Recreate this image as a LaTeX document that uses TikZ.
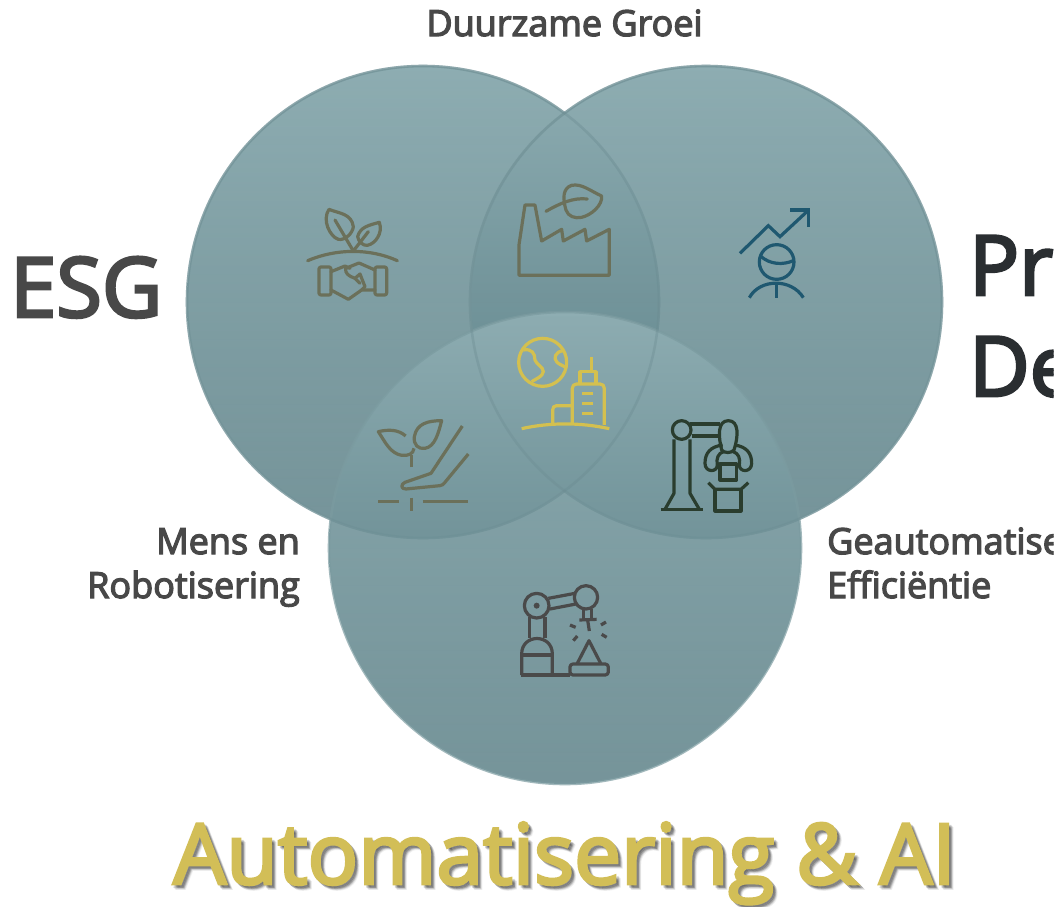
\documentclass[tikz,border=0pt]{standalone}
\usepackage{fontspec}
\usetikzlibrary{fadings}
\setmainfont{Open Sans}
\newfontfamily\semib[FakeBold=3.5]{Open Sans}
\definecolor{ctop}{RGB}{142,173,178}
\definecolor{cmid}{RGB}{99,137,144}
\definecolor{cbot}{RGB}{84,122,129}
\definecolor{dmid}{RGB}{120,157,163}
\definecolor{cedge}{HTML}{7B9BA0}
\definecolor{cinner}{HTML}{6A8A90}
\definecolor{lbl}{HTML}{484848}
\definecolor{dk}{HTML}{2A2E31}
\definecolor{gold}{HTML}{D2BE57}
\definecolor{olive}{HTML}{6B705A}
\definecolor{navy}{HTML}{1F5870}
\definecolor{yel}{HTML}{D4C04F}
\definecolor{rdk}{HTML}{2A3D2E}
\definecolor{rgr}{HTML}{4A4A4A}
\tikzfading[name=vennfade,top color=transparent!0,middle color=transparent!20,bottom color=transparent!20]
\tikzset{
  venn/.style={top color=ctop,middle color=cmid,bottom color=cbot,path fading=vennfade,fit fading=true},
  vennb/.style={top color=ctop,middle color=dmid,bottom color=cbot,path fading=vennfade,fit fading=true},
  rim/.style={draw=cedge,line width=2.6pt,draw opacity=.7},
  rimin/.style={draw=cinner,line width=2.6pt,draw opacity=.35},
  ico/.style={line width=3.2pt,line join=round,line cap=round,fill=none},
  small/.style={font=\semib\fontsize{36}{44}\selectfont,text=lbl,inner sep=0pt},
  big/.style={font=\semib\fontsize{83}{83}\selectfont,inner sep=0pt},
  huge/.style={font=\semib\fontsize{84}{84}\selectfont,inner sep=0pt},
}
\begin{document}
\begin{tikzpicture}[x=1pt,y=-1pt]
\useasboundingbox (0,0) rectangle (1063,906);
\fill[white] (0,0) rectangle (1063,906);
% circles
\path[venn] (423,302) circle[radius=236];
\path[rim] (423,302) circle[radius=236];
\path[venn] (706,302) circle[radius=236];
\path[rim] (706,302) circle[radius=236];
\path[vennb] (565,548) circle[radius=236];
\path[rim] (565,548) circle[radius=236];
\path[rimin] (423,302) circle[radius=236];
\path[rimin] (706,302) circle[radius=236];
% text
\begin{scope}
\clip (0,0) rectangle (1053.5,906);
\node[small,anchor=base] (top) at (564.5,36) {Duurzame Groei};
\node[big,text=lbl,anchor=base west] (esg) at (10,317) {ESG};
\node[big,text=dk,anchor=base west] (pr) at (969,295) {Pro};
\node[big,text=dk,anchor=base west] (de) at (969,396) {De};
\node[small,anchor=base east] (m1) at (300,554) {Mens en};
\node[small,anchor=base east] (m2) at (300,598) {Robotisering};
\node[small,anchor=base west] (g1) at (827,554) {Geautomatise};
\node[small,anchor=base west] (g2) at (827,598) {Efficiëntie};
\end{scope}
\foreach \dd/\oo in {4.5/.06,3.8/.09,3/.12,2.2/.15}{
  \node[huge,text=black,text opacity=\oo,anchor=base] at (564.5+\dd,884+\dd) {Automatisering \& AI};
}
\node[huge,text=gold,anchor=base] (auto) at (564.5,884) {Automatisering \& AI};
% handshake and plants
\begin{scope}[shift={(280,170)},x=.3333pt,y=-.3333pt,yscale=1]
\begin{scope}[ico,draw=olive]
\draw (83,272) .. controls (170,235) and (270,235) .. (352,272);
\draw (165,150) -- (220,243) -- (265,185);
\draw (147,118) .. controls (175,130) and (215,130) .. (220,170) .. controls (218,190) and (195,212) .. (175,208) .. controls (150,200) and (125,150) .. (147,118) -- cycle;
\draw (298,157) .. controls (270,165) and (240,170) .. (233,200) .. controls (235,215) and (250,228) .. (262,226) .. controls (285,222) and (310,190) .. (298,157) -- cycle;
\draw[rounded corners=2pt] (117,291) rectangle (153,375);
\draw[rounded corners=2pt] (285,291) rectangle (320,375);
\draw (153,305) -- (195,288) -- (210,295);
\draw (197,295) -- (237,279) -- (285,300);
\draw (153,360) -- (205,388) -- (245,360) -- (285,360);
\draw (197,295) .. controls (195,310) and (205,318) .. (225,325) -- (240,312) -- (255,350) -- (245,360);
\draw (225,325) -- (240,340);
\end{scope}
\end{scope}
% factory
\begin{scope}[shift={(280,170)},x=.3333pt,y=-.3333pt]
\begin{scope}[ico,draw=olive]
\draw (717,316) -- (717,225) -- (735,105) -- (765,105) -- (785,213) -- (845,178) -- (850,213) -- (915,178) -- (920,213) -- (988,178) -- (988,316) -- cycle;
\draw (798,124) .. controls (840,100) and (880,82) .. (922,87);
\draw (965,78) .. controls (930,62) and (905,40) .. (875,46) .. controls (848,55) and (848,85) .. (858,120) .. controls (865,140) and (885,146) .. (905,142) .. controls (935,135) and (968,105) .. (965,78) -- cycle;
\end{scope}
\end{scope}
% person
\begin{scope}[shift={(720,190)},x=.3333pt,y=-.3333pt]
\begin{scope}[ico,draw=navy,line cap=butt,line join=miter]
\draw (60,190) -- (145,107) -- (180,140) -- (266,60);
\draw (210,60) -- (266,60) -- (266,110);
\draw (170,216) circle[radius=52];
\draw (120,197) .. controls (150,225) and (190,225) .. (220,212);
\draw (88,323) .. controls (120,265) and (215,265) .. (250,323);
\draw (170,280) -- (170,323);
\end{scope}
\end{scope}
% globe, city, plant-hand
\begin{scope}[shift={(360,330)},x=.3333pt,y=-.3333pt]
\begin{scope}[ico,draw=yel,line cap=butt]
\draw (548,97) circle[radius=72];
\draw (490,60) .. controls (515,55) and (525,70) .. (525,90) .. controls (530,105) and (550,110) .. (550,125) .. controls (548,140) and (530,145) .. (515,155);
\draw (610,62) .. controls (585,65) and (580,85) .. (590,95) .. controls (595,102) and (605,105) .. (617,112);
\draw (485,296) .. controls (570,277) and (660,277) .. (748,296);
\draw (637,280) -- (637,175) .. controls (637,167) and (642,162) .. (650,162) -- (720,162) .. controls (728,162) and (733,167) .. (733,175) -- (733,285);
\draw (660,162) -- (660,125) -- (708,125) -- (708,162);
\draw (695,125) -- (695,80);
\draw (578,283) -- (578,240) .. controls (578,232) and (582,227) .. (590,227) -- (637,227);
\draw (666,190) -- (700,190);
\draw (666,220) -- (700,220);
\draw (666,250) -- (700,250);
\end{scope}
\begin{scope}[ico,draw=olive,line cap=butt]
\draw (307,288) -- (213,430) -- (135,457) .. controls (122,462) and (122,478) .. (138,477) -- (240,467) .. controls (247,466) and (250,463) .. (254,458) -- (325,372);
\draw (55,514) -- (118,514);
\draw (188,514) -- (323,514);
\draw (154,503) -- (154,543);
\draw (154,412) -- (154,375);
\draw (137,318) .. controls (115,298) and (85,298) .. (55,305) .. controls (75,335) and (90,370) .. (125,376) .. controls (145,378) and (160,372) .. (162,355);
\draw (245,272) .. controls (205,272) and (170,280) .. (163,320) .. controls (160,345) and (175,358) .. (195,355) .. controls (225,350) and (235,310) .. (245,272) -- cycle;
\end{scope}
\end{scope}
% robot with box
\begin{scope}[shift={(640,400)},x=.3333pt,y=-.3333pt]
\begin{scope}[ico,draw=rdk,line cap=butt]
\draw (125,90) circle[radius=28];
\draw (102,118) -- (102,280) -- (75,328);
\draw (150,118) -- (150,280) -- (178,328);
\draw (62,328) -- (190,328);
\draw (150,72) -- (240,72);
\draw (155,108) -- (240,108);
\draw (245,150) .. controls (235,110) and (232,62) .. (265,62) .. controls (298,62) and (295,110) .. (282,150) .. controls (275,160) and (252,160) .. (245,150) -- cycle;
\draw (248,135) .. controls (210,140) and (195,160) .. (195,190) .. controls (195,218) and (232,218) .. (232,195) .. controls (228,175) and (235,160) .. (250,155);
\draw (284,135) .. controls (320,140) and (335,160) .. (335,190) .. controls (335,218) and (298,218) .. (298,195) .. controls (302,175) and (295,160) .. (280,155);
\draw (240,192) rectangle (290,240);
\draw (225,268) rectangle (303,333);
\draw (205,248) -- (225,268) -- (303,268) -- (325,248);
\end{scope}
\end{scope}
% robot with triangle
\begin{scope}[shift={(500,570)},x=.3333pt,y=-.3333pt]
\begin{scope}[ico,draw=rgr,line cap=butt]
\draw (110,107) circle[radius=37];
\fill[rgr] (110,107) circle[radius=9];
\draw (258,82) circle[radius=35];
\draw (145,85) -- (225,70);
\draw (150,117) -- (228,102);
\draw (88,142) -- (88,205);
\draw (135,142) -- (135,205);
\draw (65,315) -- (65,252) .. controls (65,190) and (157,190) .. (157,252) -- (157,315);
\draw (65,255) -- (157,255);
\draw (62,315) -- (210,315);
\draw[rounded corners=3pt] (210,282) rectangle (325,315);
\draw (232,280) -- (267,212) -- (302,280);
\draw (250,118) -- (250,148);
\draw (275,118) -- (275,148);
\draw (238,150) -- (290,148);
\draw (263,150) -- (268,183);
\draw (210,165) -- (227,172);
\draw (303,165) -- (318,156);
\draw (305,193) -- (320,202);
\draw (220,212) -- (232,198);
\end{scope}
\end{scope}
\end{tikzpicture}
\end{document}
